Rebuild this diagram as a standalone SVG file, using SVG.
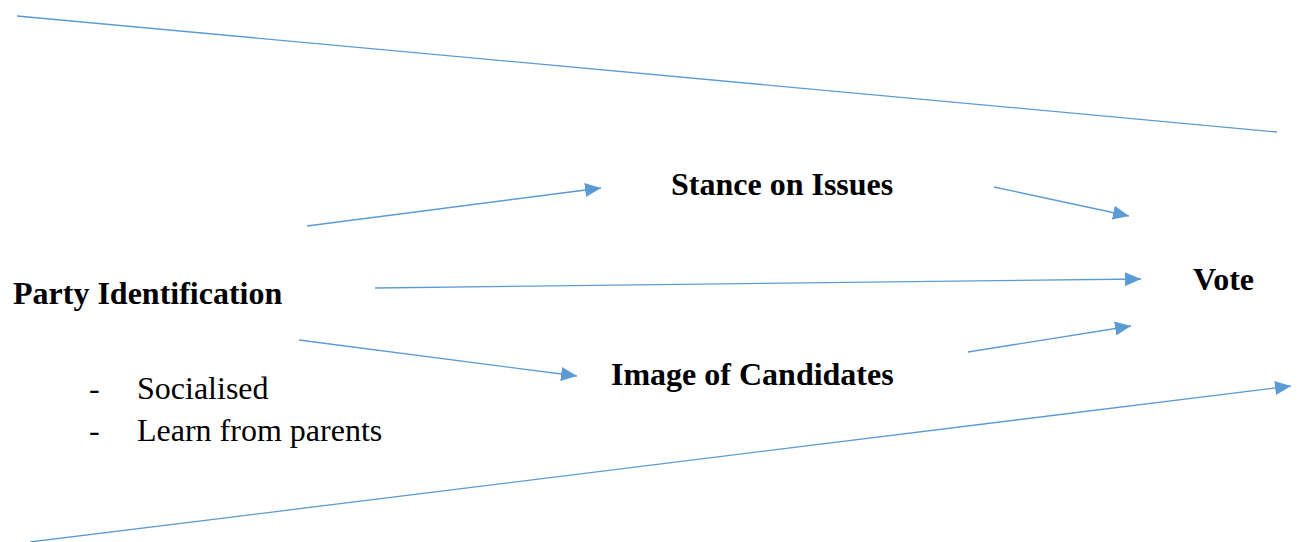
<svg xmlns="http://www.w3.org/2000/svg" width="1298" height="542" viewBox="0 0 1298 542">
  <style>
    .edge { stroke: #5B9BD5; stroke-width: 1.3; fill: none; }
    .arrow { marker-end: url(#head); }
    .label { font-family: "Liberation Serif", "Times New Roman", serif; font-weight: bold; font-size: 32px; fill: #000; }
    .note { font-family: "Liberation Serif", "Times New Roman", serif; font-size: 32px; fill: #000; }
  </style>
  <defs>
    <marker id="head" viewBox="0 0 16 14" refX="16" refY="7" markerWidth="16" markerHeight="14" markerUnits="userSpaceOnUse" orient="auto">
      <path d="M0,0 L16,7 L0,14 Z" fill="#5B9BD5"/>
    </marker>
  </defs>
  <rect width="1298" height="542" fill="#fff"/>

  <g id="connectors">
    <line class="edge" x1="17" y1="16" x2="1277" y2="132"/>
    <line class="edge arrow" x1="30" y1="542" x2="1291" y2="386"/>
    <line class="edge arrow" x1="307" y1="226" x2="601" y2="188"/>
    <line class="edge arrow" x1="994" y1="187" x2="1129" y2="216"/>
    <line class="edge arrow" x1="375" y1="288" x2="1141" y2="279"/>
    <line class="edge arrow" x1="299" y1="340" x2="577" y2="376"/>
    <line class="edge arrow" x1="968" y1="352" x2="1131" y2="326"/>
  </g>

  <g id="party-identification">
    <text class="label" x="13" y="304">Party Identification</text>
    <text class="note" x="89" y="399">-</text>
    <text class="note" x="137" y="399">Socialised</text>
    <text class="note" x="89" y="441">-</text>
    <text class="note" x="137" y="441">Learn from parents</text>
  </g>

  <g id="stance-on-issues">
    <text class="label" x="671" y="195">Stance on Issues</text>
  </g>

  <g id="image-of-candidates">
    <text class="label" x="611" y="385">Image of Candidates</text>
  </g>

  <g id="vote">
    <text class="label" x="1193" y="290">Vote</text>
  </g>
</svg>
